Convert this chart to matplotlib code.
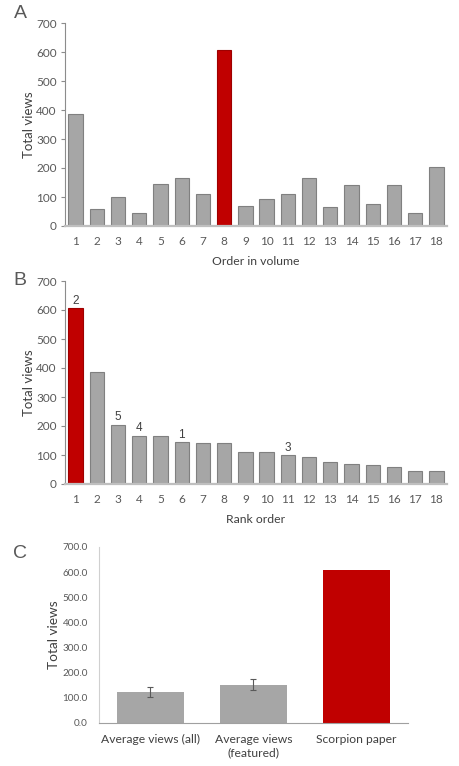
import matplotlib
matplotlib.use("Agg")
import matplotlib.pyplot as plt
import numpy as np

#------
# DATA
#------

volume_order = list(range(1, 19))
views = [385, 57, 100, 44, 145, 167, 109, 607, 70, 92, 109, 167, 66, 140, 75, 140, 44, 205]
scorpion_pos = 8

# rank order labels (bar rank -> label)
rank_labels = {1: "2", 3: "5", 4: "4", 6: "1", 11: "3"}

c_names = ["Average views (all)", "Average views\n(featured)", "Scorpion paper"]
c_values = [123, 152, 607]
c_err = [19, 22, 0]

GRAY = "#A6A6A6"
GRAY_EDGE = "#808080"
RED = "#C00000"
TXT = "#595959"

plt.rcParams['font.family'] = ['Lato', 'DejaVu Sans']

W, H = 460, 766
fig = plt.figure(figsize=(W / 100, H / 100), dpi=100)


def px_axes(left, top, right, bottom):
    return fig.add_axes([left / W, (H - bottom) / H, (right - left) / W, (bottom - top) / H])


def style_axes(ax):
    for s in ["top", "right"]:
        ax.spines[s].set_visible(False)
    ax.spines["left"].set_color("#8C8C8C")
    ax.spines["left"].set_linewidth(0.8)
    ax.spines["bottom"].set_color("#BFBFBF")
    ax.spines["bottom"].set_linewidth(1.6)
    ax.tick_params(axis="y", colors="#8C8C8C", labelcolor=TXT, labelsize=8.5,
                   length=3, width=0.8, pad=3)
    ax.tick_params(axis="x", length=0, labelcolor=TXT, labelsize=8.5, pad=7)


def rank_panel(ax, xs, ys, colors, edges, xlabel):
    ax.bar(xs, ys, width=0.68, color=colors, edgecolor=edges, linewidth=0.8)
    ax.set_xlim(0.5, 18.5)
    ax.set_ylim(0, 700)
    ax.set_yticks(range(0, 701, 100))
    ax.set_xticks(xs)
    style_axes(ax)
    ax.set_ylabel("Total views", fontsize=9.5, color="#404040", labelpad=1)
    ax.set_xlabel(xlabel, fontsize=8.8, color="#404040", labelpad=7)


# Panel A
axA = px_axes(65, 23, 447, 226)
colA = [RED if v == scorpion_pos else GRAY for v in volume_order]
edgeA = ["#9E0000" if v == scorpion_pos else GRAY_EDGE for v in volume_order]
rank_panel(axA, volume_order, views, colA, edgeA, "Order in volume")

# Panel B - sorted
order = sorted(range(len(views)), key=lambda i: -views[i])
sorted_views = [views[i] for i in order]
ranks = list(range(1, 19))
colB = [RED if volume_order[i] == scorpion_pos else GRAY for i in order]
edgeB = ["#9E0000" if volume_order[i] == scorpion_pos else GRAY_EDGE for i in order]
axB = px_axes(65, 281, 447, 484)
rank_panel(axB, ranks, sorted_views, colB, edgeB, "Rank order")
for r, lab in rank_labels.items():
    axB.text(r, sorted_views[r - 1] + 5, lab, ha="center", va="bottom",
             fontsize=8.5, color="#404040", family=["Liberation Sans"])

# Panel C
axC = px_axes(99, 547, 408, 723)
xc = np.arange(len(c_values))
axC.bar(xc, c_values, width=0.66, color=[GRAY, GRAY, RED], linewidth=0)
axC.errorbar(xc[:2], c_values[:2], yerr=c_err[:2], fmt="none", ecolor="#595959",
             elinewidth=0.8, capsize=2.5, capthick=0.8)
axC.set_xlim(-0.5, 2.5)
axC.set_ylim(0, 700)
axC.set_yticks(range(0, 701, 100))
axC.set_yticklabels([f"{v:.1f}" for v in range(0, 701, 100)])
axC.set_xticks(xc)
axC.set_xticklabels(c_names)
for s in ["top", "right"]:
    axC.spines[s].set_visible(False)
axC.spines["left"].set_color("#D0D0D0")
axC.spines["left"].set_linewidth(0.8)
axC.spines["bottom"].set_color("#A0A0A0")
axC.spines["bottom"].set_linewidth(0.8)
axC.tick_params(axis="y", length=0, labelcolor=TXT, labelsize=7.2, pad=8)
axC.tick_params(axis="x", length=0, labelcolor="#404040", labelsize=8.7, pad=8)
axC.set_ylabel("Total views", fontsize=9.8, color="#404040", labelpad=2)

# Panel letters
for lab, y in [("A", 14), ("B", 280), ("C", 553)]:
    fig.text(20 / W, 1 - y / H, lab, fontsize=14, color="#595959",
             family=["Liberation Sans"], ha="center", va="center")

fig.savefig("out.png", dpi=100)
